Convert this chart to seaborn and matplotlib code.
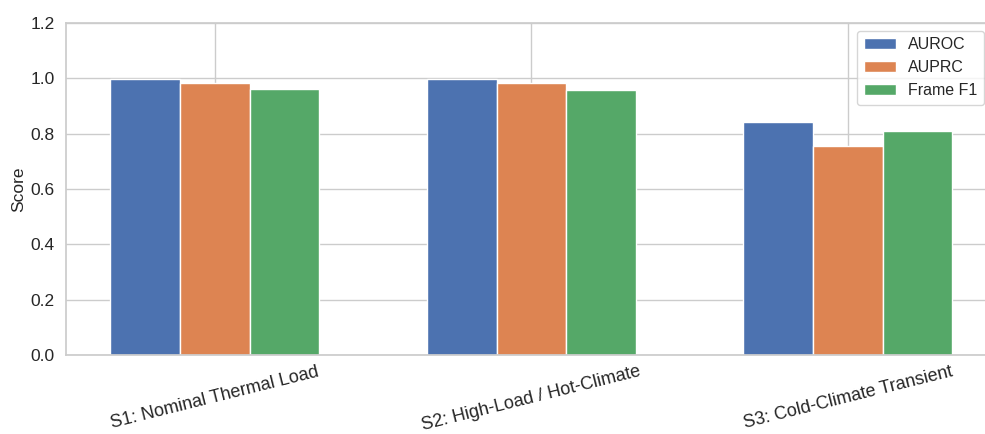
import matplotlib
matplotlib.use('Agg')
import matplotlib.pyplot as plt
import pandas as pd
import seaborn as sns

# Data
scenarios = ['S1: Nominal Thermal Load', 'S2: High-Load / Hot-Climate', 'S3: Cold-Climate Transient']
metrics = ['AUROC', 'AUPRC', 'Frame F1']
auroc = [0.996, 0.996, 0.843]
auprc = [0.984, 0.984, 0.755]
frame_f1 = [0.960, 0.958, 0.810]

df = pd.DataFrame({
    'Scenario': scenarios * 3,
    'Metric': [m for m in metrics for _ in scenarios],
    'Score': auroc + auprc + frame_f1,
})

sns.set_theme(style='whitegrid', palette='deep')
plt.rcParams['font.family'] = ['Liberation Sans', 'DejaVu Sans']

fig = plt.figure(figsize=(9.85, 4.34), dpi=100)
ax = fig.add_axes([66 / 985, 79 / 434, 926 / 985, 332 / 434])

sns.barplot(data=df, x='Scenario', y='Score', hue='Metric', order=scenarios,
            hue_order=metrics, width=0.66, gap=0, saturation=1, ax=ax, errorbar=None)

ax.set_xlim(-0.47, 2.455)
ax.set_ylim(0, 1.2)
ax.set_yticks([0.0, 0.2, 0.4, 0.6, 0.8, 1.0, 1.2])
ax.xaxis.grid(True)
ax.set_axisbelow(True)
ax.set_xlabel('')
ax.set_ylabel('Score', fontsize=12.5, labelpad=3)
ax.tick_params(axis='y', labelsize=12.5, pad=2)
ax.tick_params(axis='x', labelsize=13, pad=0)
for lab in ax.get_xticklabels():
    lab.set_rotation(14)
    lab.set_ha('center')
ax.legend(loc='upper right', fontsize=11.5, title=None)

fig.savefig('out.png', dpi=100)
